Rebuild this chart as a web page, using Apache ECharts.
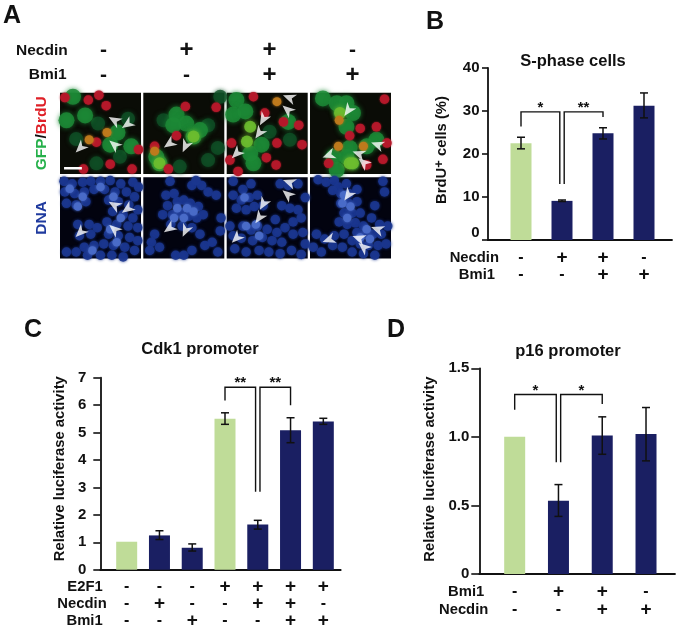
<!DOCTYPE html>
<html><head><meta charset="utf-8">
<style>html,body{margin:0;padding:0;background:#fff}#c{width:679px;height:631px}</style>
<script src="https://cdn.jsdelivr.net/npm/echarts@6/dist/echarts.min.js"></script>
</head><body><div id="c"></div>
<script>
// ---------- Panel B data ----------
const bNecdin = ['-','+','+','-'];
const bBmi1 = ['-','-','+','+'];
const bValues = [22.5,9.1,24.8,31.2];
const bErrors = [[21.2,23.9],[8.95,9.3],[23.5,26.1],[28.4,34.2]];
const bBrackets = [[0,1,26.4,29.8,13.0],[1,2,13.0,29.8,28.6]];
const bStars = ['*','**'];
// ---------- Panel C data ----------
const cE2F1 = ['-','-','-','+','+','+','+'];
const cNecdin = ['-','+','-','-','+','+','-'];
const cBmi1 = ['-','-','+','-','-','+','+'];
const cValues = [1.02,1.25,0.8,5.5,1.65,5.08,5.4];
const cErrors = [null,[1.1,1.42],[0.68,0.94],[5.3,5.72],[1.48,1.8],[4.63,5.54],[5.3,5.52]];
const cBrackets = [[3,4,6.17,6.65,2.84],[4,5,2.84,6.65,6.0]];
const cStars = ['**','**'];
// ---------- Panel D data ----------
const dBmi1 = ['-','+','+','-'];
const dNecdin = ['-','-','+','+'];
const dValues = [1.0,0.535,1.01,1.02];
const dErrors = [null,[0.42,0.652],[0.873,1.146],[0.825,1.214]];
const dBrackets = [[0,1,1.197,1.309,0.815],[1,2,0.815,1.309,1.24]];
const dStars = ['*','*'];
// ---------- Panel A header ----------
const aNecdin = ['-','+','+','-'];
const aBmi1 = ['-','-','+','+'];
// ---------- Panel A micrographs: nuclei (x%, y% of each field) ----------
const aRed = [
 [[6,6],[35,9],[48,3],[57,16],[45,61],[62,88],[89,94],[97,70],[29,94]],
 [[52,17],[90,18],[14,66],[31,94],[41,53]],
 [[33,5],[47,25],[70,36],[89,40],[6,62],[4,83],[49,80],[61,89],[62,62],[93,64],[14,97]],
 [[92,8],[82,42],[62,44],[49,53],[23,87],[95,62],[90,82],[70,89]]
];
const aGreen = [
 [[8,34],[31,28],[16,5],[62,64],[88,66],[71,49]],
 [[41,27],[53,38],[37,40],[62,54],[70,46],[20,87],[16,79]],
 [[12,9],[8,27],[23,23],[43,64],[76,36],[33,87],[29,75]],
 [[16,7],[33,13],[45,13],[53,25],[45,42],[49,68],[29,79],[82,58],[45,79],[33,95],[70,66]]
];
const aDimGreen = [
 [[20,57],[84,32],[47,38],[74,79],[45,87]],
 [[80,40],[92,68],[25,34],[80,83],[95,5],[45,91]],
 [[53,48],[78,58]],
 [[37,25],[53,87]]
];
const aBright = [
 [],
 [[62,54],[20,87]],
 [[29,42],[25,60]],
 [[37,25],[49,87],[53,87]]
];
const aOrange = [
 [[58,49],[36,58]],
 [[14,72]],
 [[62,11]],
 [[36,34],[35,66],[66,66]]
];
const aBlue = [
 [[5,5],[15,8],[28,6],[38,5],[50,5],[62,4],[75,8],[90,6],[97,12],[6,18],[18,20],[30,18],[42,15],[55,15],[68,18],[82,18],[92,24],[8,32],[20,34],[32,30],[60,28],[72,30],[85,34],[96,40],[65,42],[78,46],[90,50],[58,55],[70,58],[84,60],[96,62],[22,58],[36,58],[46,62],[24,72],[38,70],[60,70],[72,72],[86,74],[96,78],[54,82],[66,84],[80,86],[92,90],[30,86],[42,84],[20,92],[34,96],[50,96],[64,96],[78,98],[8,92]],
 [[28,22],[38,20],[30,35],[42,30],[50,28],[58,32],[68,36],[24,46],[36,46],[46,44],[56,48],[66,50],[74,46],[34,58],[48,60],[60,62],[14,70],[10,80],[20,86],[8,90],[40,96],[50,96],[60,90],[70,70],[76,84],[85,80],[92,92],[95,66],[96,50],[80,18],[90,22],[60,10],[72,10],[65,4],[33,5]],
 [[8,5],[20,15],[30,8],[8,22],[18,28],[28,25],[38,22],[12,38],[24,40],[34,36],[45,35],[66,8],[76,10],[88,8],[97,25],[68,35],[78,38],[88,40],[82,55],[92,50],[60,52],[72,62],[62,68],[50,64],[38,60],[30,65],[20,60],[8,72],[18,75],[32,78],[44,74],[56,78],[68,80],[82,70],[94,68],[97,82],[10,88],[24,92],[40,90],[52,92],[66,94],[80,90],[92,95],[4,60]],
 [[10,3],[20,6],[30,4],[35,12],[45,8],[28,16],[38,20],[48,20],[58,15],[38,32],[48,32],[58,30],[42,44],[52,44],[62,44],[36,55],[46,58],[56,56],[66,60],[76,50],[86,58],[58,68],[68,70],[78,70],[88,70],[96,60],[30,72],[42,70],[52,78],[62,82],[72,84],[84,84],[94,82],[18,76],[8,70],[28,84],[40,86],[52,92],[66,94],[80,96],[14,92],[4,86],[90,5],[92,18],[80,35]]
];
const aPaleBlue = [
 [[12,14],[28,24],[22,36],[66,24],[50,12],[62,64],[75,50],[70,80],[40,90]],
 [[42,38],[54,38],[38,50],[50,50],[62,42]],
 [[24,60],[36,58],[22,25],[40,72]],
 [[42,22],[50,36],[46,50],[70,64],[62,74],[74,76],[40,32]]
];
// arrowheads: x%, y%, direction of the tip (degrees counter-clockwise from up)
const aArrows = [
 [[67,34,60],[83,39,125],[67,64,50],[25,68,135]],
 [[32,63,125],[52,66,155]],
 [[77,6,70],[75,21,50],[45,33,150],[40,50,145],[12,75,135]],
 [[47,22,145],[23,77,110],[83,64,70],[60,75,70],[66,86,50]]
];
const aScaleBar = [[5,93],[27,93]];

const NAVY='#1a1f62', GREEN='#bfdc98', F='"Liberation Sans",Arial,sans-serif';
const grids=[],xAxes=[],yAxes=[],series=[];
const tick={fontFamily:F,fontWeight:'bold',fontSize:15,color:'#111'};
const signFmt=v=>v==='+'?'{p|+}':'{m|-}';
const signRich=(p,m)=>({p:{fontFamily:F,fontWeight:'bold',fontSize:p,color:'#111'},m:{fontFamily:F,fontWeight:'bold',fontSize:m,color:'#111'}});

function rowAxis(gridIndex,labels,name,offset,gap){
  xAxes.push({type:'category',gridIndex,data:labels,offset,position:'bottom',
    name,nameLocation:'start',nameGap:gap,
    nameTextStyle:{fontFamily:F,fontWeight:'bold',fontSize:14.8,color:'#111',verticalAlign:'middle'},
    axisLine:{show:false,onZero:false},axisTick:{show:false},
    axisLabel:{show:true,interval:0,margin:0,verticalAlign:'middle',formatter:signFmt,rich:signRich(19,16)}});
  return xAxes.length-1;
}
function panel(p){
  const g0=grids.length;
  grids.push({left:p.axisLeft,top:p.top,width:p.axisRight-p.axisLeft,height:p.bottom-p.top});
  xAxes.push({type:'value',gridIndex:g0,min:0,max:1,axisLine:{onZero:false,lineStyle:{color:'#111',width:1.8}},axisTick:{show:false},axisLabel:{show:false},splitLine:{show:false}});
  yAxes.push({type:'value',gridIndex:g0,min:0,max:p.max,interval:p.interval,
    axisLine:{show:true,onZero:false,lineStyle:{color:'#111',width:1.8}},
    axisTick:{show:true,length:p.tickLen,lineStyle:{color:'#111',width:1.6}},
    axisLabel:Object.assign({margin:p.margin,formatter:p.fmt,verticalAlignMinLabel:p.minAlign||'middle'},tick),
    splitLine:{show:false},
    name:p.yName,nameLocation:'middle',nameGap:p.nameGap,nameRotate:90,nameMoveOverlap:false,
    nameTextStyle:Object.assign({fontFamily:F,fontWeight:'bold',fontSize:14.8,color:'#111',padding:p.namePad||0},p.nameExtra||{})});
  const g1=grids.length;
  grids.push({left:p.dataLeft,top:p.top,width:p.dataRight-p.dataLeft,height:p.bottom-p.top});
  yAxes.push({type:'value',gridIndex:g1,min:0,max:p.max,show:false,splitLine:{show:false}});
  const yi=yAxes.length-1;
  let xi0=null;
  p.rows.forEach(r=>{const i=rowAxis(g1,r.labels,r.name,r.offset,r.gap);if(xi0===null)xi0=i;});
  series.push({type:'bar',xAxisIndex:xi0,yAxisIndex:yi,barWidth:21,silent:true,
    data:p.values.map((v,i)=>({value:v,itemStyle:{color:p.controls.includes(i)?GREEN:NAVY}}))});
  const errData=p.errors.map((e,i)=>e?[i,e[0],e[1]]:null).filter(Boolean);
  series.push({type:'custom',xAxisIndex:xi0,yAxisIndex:yi,silent:true,clip:false,z:5,data:errData,
    renderItem:(params,api)=>{
      const a=api.coord([api.value(0),api.value(1)]),b=api.coord([api.value(0),api.value(2)]);
      const st={stroke:'#111',lineWidth:1.5,fill:null},c=4;
      return {type:'group',children:[
        {type:'line',shape:{x1:a[0],y1:a[1],x2:b[0],y2:b[1]},style:st},
        {type:'line',shape:{x1:a[0]-c,y1:a[1],x2:a[0]+c,y2:a[1]},style:st},
        {type:'line',shape:{x1:b[0]-c,y1:b[1],x2:b[0]+c,y2:b[1]},style:st}]};
    }});
  series.push({type:'custom',xAxisIndex:xi0,yAxisIndex:yi,silent:true,clip:false,z:6,data:p.brackets,
    renderItem:(params,api)=>{
      const k=params.dataIndex, from=api.value(0), to=api.value(1);
      const dl=k===1?2.2:0, dr=k===0?-2.2:0;
      const A=api.coord([from,api.value(2)]),T=api.coord([from,api.value(3)]),B=api.coord([to,api.value(4)]);
      const x1=A[0]+dl,x2=B[0]+dr;
      return {type:'group',children:[
        {type:'polyline',shape:{points:[[x1,A[1]],[x1,T[1]],[x2,T[1]],[x2,B[1]]]},style:{stroke:'#111',lineWidth:1.4,fill:null}},
        {type:'text',style:{text:p.stars[k],x:(x1+x2)/2,y:T[1]-4,align:'center',verticalAlign:'middle',font:'bold 15px '+F,fill:'#111'}}]};
    }});
}
// Panel B
panel({axisLeft:488,axisRight:672,dataLeft:500.5,dataRight:664.5,top:68,bottom:240,max:40,interval:10,
  margin:8.5,tickLen:6,minAlign:'bottom',yName:'{n|BrdU}{s|+}{n| cells (%)}',nameGap:38,namePad:[0,0,0,8],
  nameExtra:{rich:{n:{fontFamily:F,fontWeight:'bold',fontSize:14.8,color:'#111'},s:{fontFamily:F,fontWeight:'bold',fontSize:13,color:'#111',verticalAlign:'top',padding:[0,0,4,0]}}},
  rows:[{labels:bNecdin,name:'Necdin',offset:18,gap:1.5},{labels:bBmi1,name:'Bmi1',offset:35,gap:5.5}],
  values:bValues,errors:bErrors,brackets:bBrackets,stars:bStars,controls:[0]});
// Panel C
panel({axisLeft:100.3,axisRight:340.7,dataLeft:110.3,dataRight:339.7,top:377.7,bottom:569.7,max:7,interval:1,
  margin:14,tickLen:7,yName:'Relative luciferase activity',nameGap:33,namePad:[0,0,0,10],
  rows:[{labels:cE2F1,name:'E2F1',offset:17,gap:7.6},{labels:cNecdin,name:'Necdin',offset:34,gap:3.6},{labels:cBmi1,name:'Bmi1',offset:51.3,gap:7.6}],
  values:cValues,errors:cErrors,brackets:cBrackets,stars:cStars,controls:[0,3]});
// Panel D
panel({axisLeft:479.3,axisRight:675,dataLeft:492.8,dataRight:667.9,top:368.3,bottom:574,max:1.5,interval:0.5,
  margin:10,tickLen:8,fmt:v=>v===0?'0':v.toFixed(1),yName:'Relative luciferase activity',nameGap:42,namePad:[0,0,0,4],
  rows:[{labels:dBmi1,name:'Bmi1',offset:17.7,gap:8.5},{labels:dNecdin,name:'Necdin',offset:36,gap:4.5}],
  values:dValues,errors:dErrors,brackets:dBrackets,stars:dStars,controls:[0]});

// Panel A header rows
{
  const g=grids.length;
  grids.push({left:62,top:50.7,width:332,height:24.3});
  yAxes.push({type:'value',gridIndex:g,show:false,min:0,max:1,splitLine:{show:false}});
  const mk=(labels,name,pos,gap)=>xAxes.push({type:'category',gridIndex:g,data:labels,position:pos,
    name,nameLocation:'start',nameGap:gap,
    nameTextStyle:{fontFamily:F,fontWeight:'bold',fontSize:15.5,color:'#111',verticalAlign:'middle'},
    axisLine:{show:false,onZero:false},axisTick:{show:false},
    axisLabel:{show:true,interval:0,margin:0,verticalAlign:'middle',formatter:signFmt,rich:signRich(24,21)}});
  mk(aNecdin,'Necdin','top',-5.7);
  mk(aBmi1,'Bmi1','bottom',-4.7);
}
// Panel A micrographs
const cellLeft=[60,143.3,226.7,310], rowTop=[92.7,177.3];
function scatter(xi,yi,data,color,size,opacity,blur){
  series.push({type:'scatter',xAxisIndex:xi,yAxisIndex:yi,data,symbolSize:size,clip:true,silent:true,
    itemStyle:{color,opacity,shadowBlur:blur,shadowColor:color}});
}
const arrowPath='path://M50 0 L92 100 L50 72 L8 100 Z';
rowTop.forEach((top,row)=>cellLeft.forEach((left,c)=>{
  const g=grids.length;
  grids.push({left,top,width:81,height:81.2,show:true,borderWidth:0,backgroundColor:row===0?'#0a0c06':'#02030f'});
  xAxes.push({type:'value',gridIndex:g,min:0,max:100,show:false,splitLine:{show:false}});
  const first=c===0;
  yAxes.push({type:'value',gridIndex:g,min:0,max:100,inverse:true,splitLine:{show:false},
    axisLine:{show:false},axisTick:{show:false},axisLabel:{show:false},
    name:first?(row===0?'{g|GFP}{k|/}{r|BrdU}':'DNA'):'',nameLocation:'middle',nameGap:10,nameRotate:90,nameMoveOverlap:false,
    nameTextStyle:{fontFamily:F,fontWeight:'bold',fontSize:15.5,color:'#1f3a9e',
      rich:{g:{fontFamily:F,fontWeight:'bold',fontSize:15.5,color:'#25b04a'},k:{fontFamily:F,fontWeight:'bold',fontSize:15.5,color:'#111'},r:{fontFamily:F,fontWeight:'bold',fontSize:15.5,color:'#df2027'}}}});
  const xi=xAxes.length-1, yi=yAxes.length-1;
  if(row===0){
    scatter(xi,yi,aDimGreen[c],'#0f4f26',14,0.8,4);
    scatter(xi,yi,aGreen[c],'#1c8a36',16,0.85,5);
    scatter(xi,yi,aBright[c],'#6dbd2f',12,0.9,5);
    scatter(xi,yi,aRed[c],'#b5182a',9.5,0.95,2);
    scatter(xi,yi,aOrange[c],'#bf7a1c',9,0.95,3);
    if(c===0) series.push({type:'line',xAxisIndex:xi,yAxisIndex:yi,data:aScaleBar,symbol:'none',silent:true,lineStyle:{color:'#fff',width:2.5}});
  } else {
    scatter(xi,yi,aBlue[c],'#1b368f',9.5,0.9,3);
    scatter(xi,yi,aPaleBlue[c],'#4a6cc8',8.5,0.95,3);
  }
  series.push({type:'scatter',xAxisIndex:xi,yAxisIndex:yi,data:aArrows[c].map(a=>({value:[a[0],a[1]],symbolRotate:a[2]})),
    symbol:arrowPath,symbolSize:[11,13],clip:true,silent:true,z:8,itemStyle:{color:'#fff'}});
}));

const titleStyle=s=>({fontFamily:F,fontWeight:'bold',fontSize:s,color:'#111'});
const title=[
 {text:'A',left:3,top:4,padding:0,textStyle:titleStyle(25)},
 {text:'B',left:426,top:10,padding:0,textStyle:titleStyle(25)},
 {text:'C',left:24,top:318,padding:0,textStyle:titleStyle(25)},
 {text:'D',left:387,top:318,padding:0,textStyle:titleStyle(25)},
 {text:'S-phase cells',left:573,top:53,padding:0,textAlign:'center',textStyle:titleStyle(16.5)},
 {text:'Cdk1 promoter',left:200,top:341,padding:0,textAlign:'center',textStyle:titleStyle(16.5)},
 {text:'p16 promoter',left:568,top:343,padding:0,textAlign:'center',textStyle:titleStyle(16.5)}
];
const chart=echarts.init(document.getElementById('c'),null,{renderer:'canvas'});
chart.setOption({animation:false,backgroundColor:'#fff',title,grid:grids,xAxis:xAxes,yAxis:yAxes,series,tooltip:{show:false}});
</script></body></html>
